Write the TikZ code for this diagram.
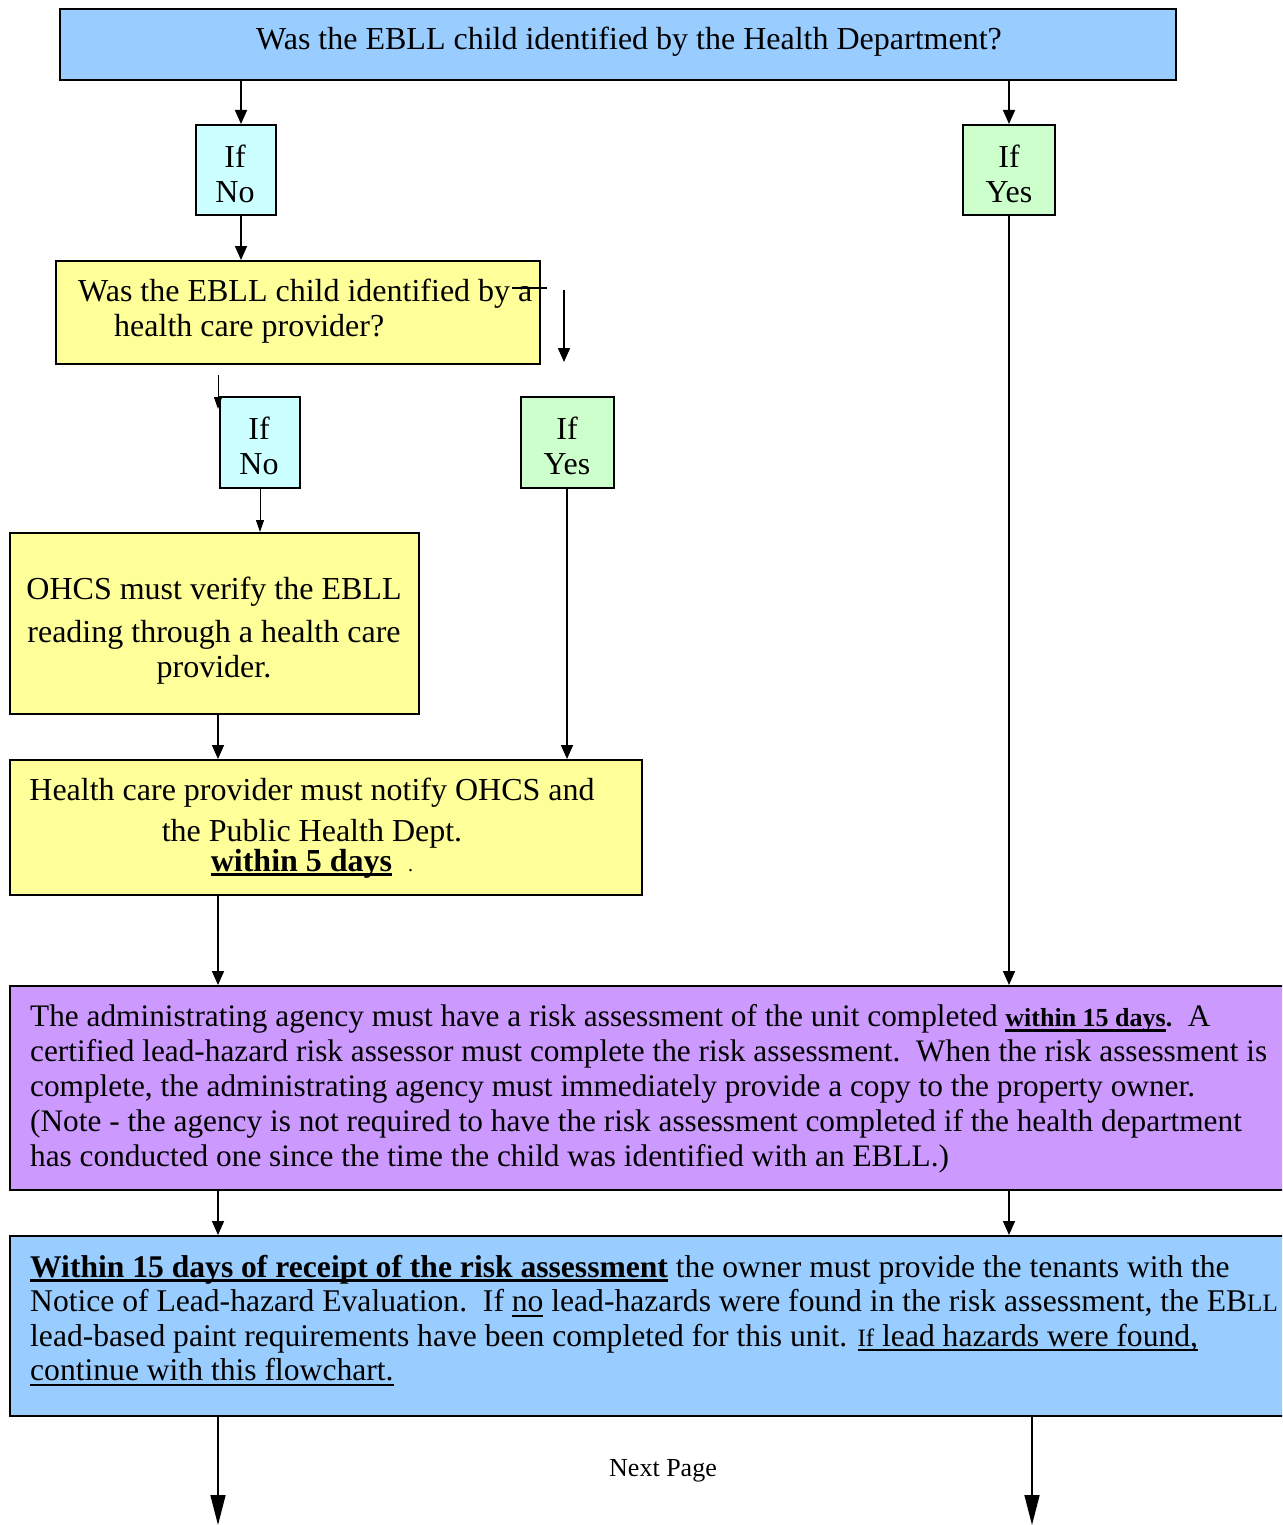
\documentclass[tikz,border=0pt]{standalone}
\usepackage{fontspec}
\setmainfont{Liberation Serif}
\usetikzlibrary{arrows.meta}
\definecolor{topblue}{HTML}{99CCFF}
\definecolor{nocyan}{HTML}{CCFFFF}
\definecolor{yesgreen}{HTML}{CCFFCC}
\definecolor{qyellow}{HTML}{FFFF99}
\definecolor{lilac}{HTML}{CC99FF}
\newcommand{\myul}[2]{\leavevmode\setbox0\hbox{#2}\rlap{\rule[-5pt]{\wd0}{#1}}\box0\relax}
\newcommand{\bul}[1]{\myul{3pt}{\textbf{#1}}}
\newcommand{\nul}[1]{\myul{2pt}{#1}}
\begin{document}
\begin{tikzpicture}[x=1pt,y=-1pt,
  every node/.style={font=\fontsize{32}{35}\selectfont},
  box/.style={draw, line width=1.6pt, inner sep=0pt, anchor=north west},
  txt/.style={inner sep=0pt, align=center},
  arr/.style={line width=1.6pt, -{Triangle[length=14pt,width=12pt]}},
  thinarr/.style={line width=1pt, -{Triangle[length=12pt,width=8pt]}},
  bigarr/.style={line width=1.6pt, -{Triangle[length=30pt,width=15pt]}}]
\useasboundingbox (0,0) rectangle (1282,1525);
\clip (0,0) rectangle (1282,1525);
% boxes
\node[box, fill=topblue, minimum width=1116, minimum height=71] (top) at (59,8) {};
\node[box, fill=nocyan, minimum width=80, minimum height=90] (ifno1) at (195,124) {};
\node[box, fill=yesgreen, minimum width=92, minimum height=90] (ifyes1) at (962,124) {};
\node[box, fill=qyellow, minimum width=484, minimum height=103] (q2) at (55,260) {};
\node[box, fill=nocyan, minimum width=80, minimum height=91] (ifno2) at (219,396) {};
\node[box, fill=yesgreen, minimum width=93, minimum height=91] (ifyes2) at (520,396) {};
\node[box, fill=qyellow, minimum width=409, minimum height=181] (ohcs) at (9,532) {};
\node[box, fill=qyellow, minimum width=632, minimum height=135] (health) at (9,759) {};
\node[box, fill=lilac, minimum width=1300, minimum height=204] (purple) at (9,985) {};
\node[box, fill=topblue, minimum width=1300, minimum height=180] (blue) at (9,1235) {};
% texts
\node[txt] (ttop) at (629,42) {Was the EBLL child identified by the Health Department?};
\node[txt] (tifno1) at (235,174) {If\\No};
\node[txt] (tifyes1) at (1009,174) {If\\Yes};
\node[txt, align=left, anchor=west] (tq2) at (78,311) {Was the EBLL child identified by a\\\hspace*{36pt}health care provider?};
\node[txt] (tifno2) at (259,446) {If\\No};
\node[txt] (tifyes2) at (567,446) {If\\Yes};
\node[txt] (tohcs) at (214,631) {OHCS must verify the EBLL\\[8pt]reading through a health care\\provider.};
\node[txt] (thealth) at (312,828) {Health care provider must notify OHCS and\\[6pt]the Public Health Dept.\\[-5pt]\bul{within 5 days}\hspace{16pt}{\fontsize{20}{20}\selectfont .}};
\node[txt, align=left, anchor=west, font=\fontsize{31.3}{35}\selectfont] (tpurple) at (30,1089) {The administrating agency must have a risk assessment of the unit completed {\fontsize{26}{26}\selectfont\bul{within 15 days}\textbf{.}}\ \ A\\
certified lead-hazard risk assessor must complete the risk assessment.\ \ When the risk assessment is\\
complete, the administrating agency must immediately provide a copy to the property owner.\\
(Note - the agency is not required to have the risk assessment completed if the health department\\
has conducted one since the time the child was identified with an EBLL.)};
\node[txt, align=left, anchor=west, font=\fontsize{31.6}{34.5}\selectfont] (tblue) at (30,1320.5) {\bul{Within 15 days of receipt of the risk assessment} the owner must provide the tenants with the\\
Notice of Lead-hazard Evaluation.\ \ If \nul{no} lead-hazards were found in the risk assessment, the EB{\fontsize{25}{25}\selectfont LL}\\
lead-based paint requirements have been completed for this unit. \nul{{\fontsize{25}{25}\selectfont If} lead hazards were found,}\\
\nul{continue with this flowchart.}};
\node[txt, font=\fontsize{26}{30}\selectfont] (tnext) at (663,1471) {Next Page};
% coordinates for connector columns
\coordinate (x218) at (218,0);
\coordinate (x241) at (241,0);
\coordinate (x260) at (260,0);
\coordinate (x567) at (567,0);
\coordinate (x1009) at (1009,0);
\coordinate (x1032) at (1032,0);
\coordinate (bot) at (0,1525);
\coordinate (s1) at (512,288);
\coordinate (s2) at (547,288);
\coordinate (s3) at (564,290);
\coordinate (s4) at (564,362);
\coordinate (s5) at (218,375);
\coordinate (s6) at (218,409);
% connectors
\draw[arr] (x241 |- top.south) -- (x241 |- ifno1.north);
\draw[arr] (x1009 |- top.south) -- (x1009 |- ifyes1.north);
\draw[arr] (x241 |- ifno1.south) -- (x241 |- q2.north);
\draw[line width=1.5pt] (s1) -- (s2);
\draw[arr] (s3) -- (s4);
\draw[thinarr] (s5) -- (s6);
\draw[thinarr] (x260 |- ifno2.south) -- (x260 |- ohcs.north);
\draw[arr] (x218 |- ohcs.south) -- (x218 |- health.north);
\draw[arr] (x567 |- ifyes2.south) -- (x567 |- health.north);
\draw[arr] (x218 |- health.south) -- (x218 |- purple.north);
\draw[arr] (x1009 |- ifyes1.south) -- (x1009 |- purple.north);
\draw[arr] (x218 |- purple.south) -- (x218 |- blue.north);
\draw[arr] (x1009 |- purple.south) -- (x1009 |- blue.north);
\draw[bigarr] (x218 |- blue.south) -- (x218 |- bot);
\draw[bigarr] (x1032 |- blue.south) -- (x1032 |- bot);
\end{tikzpicture}
\end{document}
